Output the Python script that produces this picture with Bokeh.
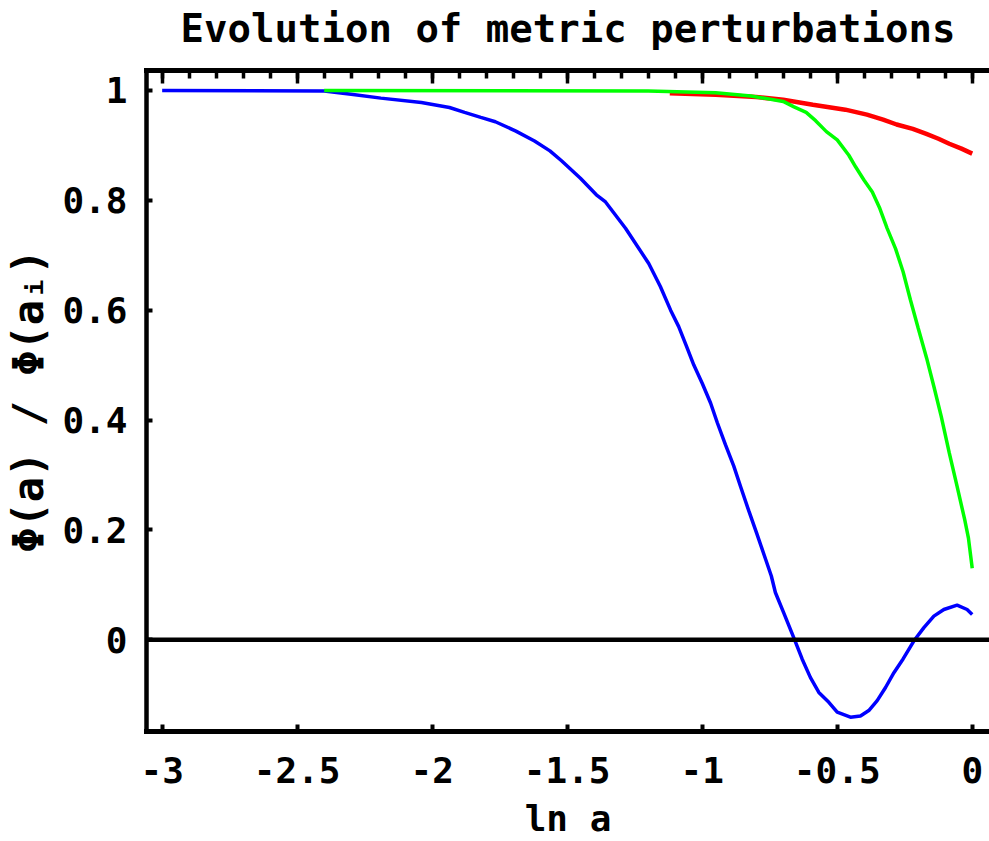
from bokeh.plotting import figure
from bokeh.models import Range1d, LinearAxis, FixedTicker, SingleIntervalTicker, Span
from bokeh.embed import file_html
from bokeh.resources import INLINE

# ---- texts ----
title_text = "Evolution of metric perturbations"
x_label = "ln a"
y_label = "Φ(a) / Φ(aᵢ)"

# ---- ticks ----
x_tick_values = [-3, -2.5, -2, -1.5, -1, -0.5, 0]
x_tick_labels = ["-3", "-2.5", "-2", "-1.5", "-1", "-0.5", "0"]
y_tick_values = [0, 0.2, 0.4, 0.6, 0.8, 1]
y_tick_labels = ["0", "0.2", "0.4", "0.6", "0.8", "1"]

# ---- data ----
blue_x = [-3.0, -2.4, -2.3, -2.19, -2.04, -1.936, -1.88, -1.82, -1.766, -1.69,
          -1.621, -1.564, -1.521, -1.451, -1.392, -1.358, -1.284, -1.198, -1.155,
          -1.117, -1.087, -1.058, -1.031, -1.0, -0.969, -0.944, -0.914, -0.883,
          -0.858, -0.827, -0.799, -0.769, -0.744, -0.729, -0.698, -0.658, -0.630,
          -0.599, -0.568, -0.531, -0.5, -0.451, -0.414, -0.383, -0.352, -0.321,
          -0.29, -0.256, -0.213, -0.179, -0.142, -0.105, -0.056, -0.019, 0.0]
blue_y = [1.0, 0.999, 0.993, 0.986, 0.978, 0.969, 0.96, 0.951, 0.943, 0.926,
          0.908, 0.89, 0.872, 0.84, 0.81, 0.797, 0.749, 0.685, 0.643,
          0.600, 0.570, 0.534, 0.500, 0.467, 0.431, 0.395, 0.355, 0.316,
          0.279, 0.234, 0.195, 0.152, 0.116, 0.086, 0.049, 0.0, -0.035,
          -0.069, -0.096, -0.114, -0.132, -0.141, -0.139, -0.129, -0.111, -0.087,
          -0.06, -0.035, 0.0, 0.022, 0.043, 0.055, 0.063, 0.055, 0.046]

red_x = [-1.12, -0.95, -0.80, -0.70, -0.59, -0.47, -0.39, -0.33, -0.28, -0.22,
         -0.17, -0.125, -0.085, -0.04, 0.0]
red_y = [0.995, 0.992, 0.988, 0.983, 0.974, 0.965, 0.956, 0.947, 0.938, 0.93,
         0.921, 0.912, 0.903, 0.894, 0.885]

green_x = [-2.4, -1.2, -0.95, -0.82, -0.70, -0.66, -0.615, -0.58, -0.54, -0.50,
           -0.457, -0.432, -0.401, -0.37, -0.342, -0.315, -0.284, -0.256, -0.229,
           -0.2, -0.169, -0.142, -0.115, -0.085, -0.056, -0.028, -0.014, 0.0]
green_y = [1.0, 0.999, 0.996, 0.99, 0.98, 0.97, 0.96, 0.945, 0.925, 0.91,
           0.882, 0.861, 0.837, 0.815, 0.785, 0.749, 0.712, 0.67, 0.619,
           0.567, 0.513, 0.461, 0.407, 0.34, 0.279, 0.219, 0.185, 0.13]

FONT = "DejaVu Sans Mono"

p = figure(width=989, height=841,
           x_range=Range1d(-3.058, 0.064), y_range=Range1d(-0.1671, 1.0363),
           output_backend="svg", toolbar_location=None,
           x_axis_location=None, y_axis_location=None,
           min_border_left=146, min_border_right=0,
           min_border_top=70, min_border_bottom=109,
           outline_line_color=None,
           background_fill_color="white", border_fill_color="white")
p.grid.visible = False

# bottom axis
xb = LinearAxis(ticker=FixedTicker(ticks=x_tick_values),
                major_label_overrides=dict(zip(x_tick_values, x_tick_labels)),
                axis_label=x_label)
xb.axis_line_width = 5
xb.axis_line_cap = "square"
xb.major_tick_in = 7
xb.major_tick_out = 0
xb.major_tick_line_width = 4
xb.minor_tick_line_color = None
xb.major_label_standoff = 25
xb.major_label_text_font = FONT
xb.major_label_text_font_style = "bold"
xb.major_label_text_font_size = "36px"
xb.major_label_text_color = "black"
xb.axis_label_standoff = 12
xb.axis_label_text_font = FONT
xb.axis_label_text_font_style = "bold"
xb.axis_label_text_font_size = "36px"
xb.axis_label_text_color = "black"
p.add_layout(xb, "below")

# top axis: ticks only (labels hidden), carries the chart title as its label
xt = LinearAxis(ticker=SingleIntervalTicker(interval=0.5, num_minor_ticks=5),
                axis_label=title_text)
xt.axis_line_width = 5
xt.axis_line_cap = "square"
xt.major_tick_in = 13
xt.major_tick_out = 0
xt.minor_tick_in = 8
xt.minor_tick_out = 0
xt.major_tick_line_width = 3.5
xt.minor_tick_line_width = 3.5
xt.major_label_text_color = None
xt.major_label_text_font_size = "16px"
xt.major_label_standoff = 0
xt.axis_label_standoff = 20
xt.axis_label_text_font = FONT
xt.axis_label_text_font_style = "bold"
xt.axis_label_text_font_size = "39px"
xt.axis_label_text_color = "black"
p.add_layout(xt, "above")

# left axis
yl = LinearAxis(ticker=FixedTicker(ticks=y_tick_values),
                major_label_overrides=dict(zip(y_tick_values, y_tick_labels)),
                axis_label=y_label)
yl.axis_line_width = 4.5
yl.axis_line_cap = "square"
yl.major_tick_in = 6
yl.major_tick_out = 0
yl.major_tick_line_width = 4
yl.minor_tick_line_color = None
yl.major_label_standoff = 19
yl.major_label_text_font = FONT
yl.major_label_text_font_style = "bold"
yl.major_label_text_font_size = "36px"
yl.major_label_text_color = "black"
yl.axis_label_standoff = 6
yl.axis_label_text_font = FONT
yl.axis_label_text_font_style = "bold"
yl.axis_label_text_font_size = "42px"
yl.axis_label_text_color = "black"
p.add_layout(yl, "left")

# zero line
p.add_layout(Span(location=0, dimension="width", line_color="black", line_width=4.5))

# curves
p.line(blue_x, blue_y, line_color="#0000FF", line_width=3.5)
p.line(red_x, red_y, line_color="#FF0000", line_width=4.5)
p.line(green_x, green_y, line_color="#00FF00", line_width=3.5)

open("out.html", "w").write(file_html(p, INLINE))
